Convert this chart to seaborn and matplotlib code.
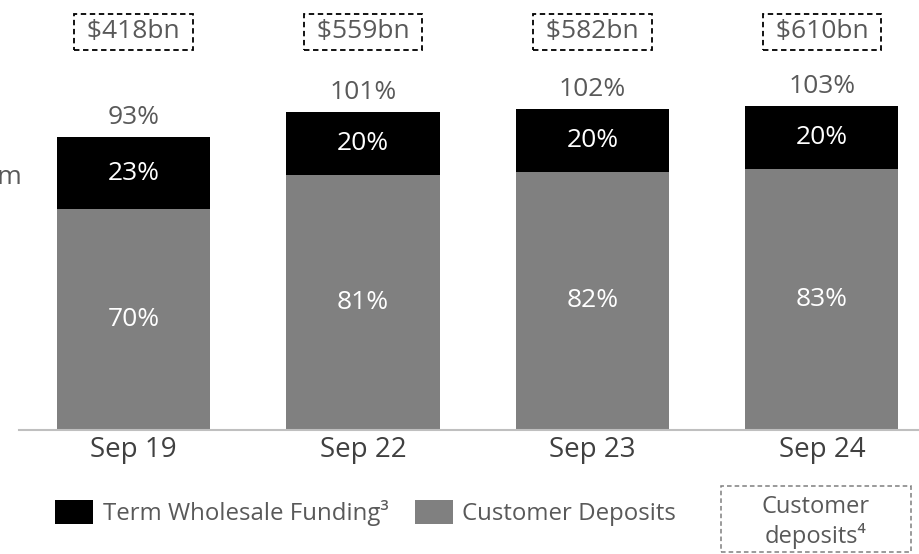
import matplotlib
matplotlib.use("Agg")
import matplotlib.pyplot as plt
import matplotlib.patches as mpatches
import seaborn as sns
import pandas as pd

# data
periods = ["Sep 19", "Sep 22", "Sep 23", "Sep 24"]
customer_deposits = [70, 81, 82, 83]
term_wholesale = [23, 20, 20, 20]
funding_bn = [418, 559, 582, 610]

totals = [d + w for d, w in zip(customer_deposits, term_wholesale)]
df = pd.DataFrame({"period": periods, "deposits": customer_deposits,
                   "wholesale": term_wholesale, "total": totals})

sns.set_theme(style="white")
plt.rcParams["font.family"] = ["Open Sans", "DejaVu Sans"]

BLACK = "#000000"
GREY = "#808080"
TXT = "#595959"
W, H = 919, 554

fig = plt.figure(figsize=(9.19, 5.54), dpi=100)
ax = fig.add_axes([19 / W, 124 / H, 900 / W, 430 / H])

# stacked bars: total in black, deposits in grey on top of it
sns.barplot(data=df, x="period", y="total", color=BLACK, width=0.667,
            saturation=1, linewidth=0, ax=ax, label="Term Wholesale Funding³")
sns.barplot(data=df, x="period", y="deposits", color=GREY, width=0.667,
            saturation=1, linewidth=0, ax=ax, label="Customer Deposits")

ax.set_xlim(-0.499, 3.423)
ax.set_ylim(0, 136.5)
ax.set_xlabel("")
ax.set_ylabel("")
ax.set_yticks([])
for s in ["top", "right", "left"]:
    ax.spines[s].set_visible(False)
ax.spines["bottom"].set_color("#bfbfbf")
ax.spines["bottom"].set_linewidth(1.5)
ax.tick_params(axis="x", length=0, pad=4, labelsize=20, labelcolor="#404040")

for i in range(len(periods)):
    ax.text(i, customer_deposits[i] / 2, f"{customer_deposits[i]}%", ha="center",
            va="center", color="white", fontsize=19)
    ax.text(i, customer_deposits[i] + term_wholesale[i] / 2, f"{term_wholesale[i]}%",
            ha="center", va="center", color="white", fontsize=19)
    ax.annotate(f"{totals[i]}%", (i, totals[i]), xytext=(0, 5),
                textcoords="offset points", ha="center", va="bottom",
                color=TXT, fontsize=19)
    ax.text(i, 126.4, f" ${funding_bn[i]}bn ", ha="center", va="center",
            color=TXT, fontsize=19, clip_on=False,
            bbox=dict(boxstyle="square,pad=0.22", fc="white", ec="black",
                      ls=(0, (3, 2)), lw=1.3))

# cut-off side label at the left edge
fig.text(23 / W, 1 - 177 / H, "Term", ha="right", va="center",
         color=TXT, fontsize=19)

ax.legend(loc="center left", bbox_to_anchor=(36 / 900, -83 / 430), ncol=2,
          frameon=False, fontsize=17.3, labelcolor=TXT, handlelength=1.58,
          handleheight=1.2, handletextpad=0.4, columnspacing=1.1,
          borderaxespad=0, borderpad=0)

# dashed note box bottom right
fig.patches.append(mpatches.Rectangle((721 / W, 1 - 552 / H), 190 / W, 66 / H,
                                      transform=fig.transFigure, fill=False,
                                      ec="#7f7f7f", ls=(0, (3, 2)), lw=1.1))
fig.text(816 / W, 1 - 522 / H, "Customer\ndeposits⁴", ha="center",
         va="center", color=TXT, fontsize=17, linespacing=1.2)

fig.savefig("out.png", dpi=100)
